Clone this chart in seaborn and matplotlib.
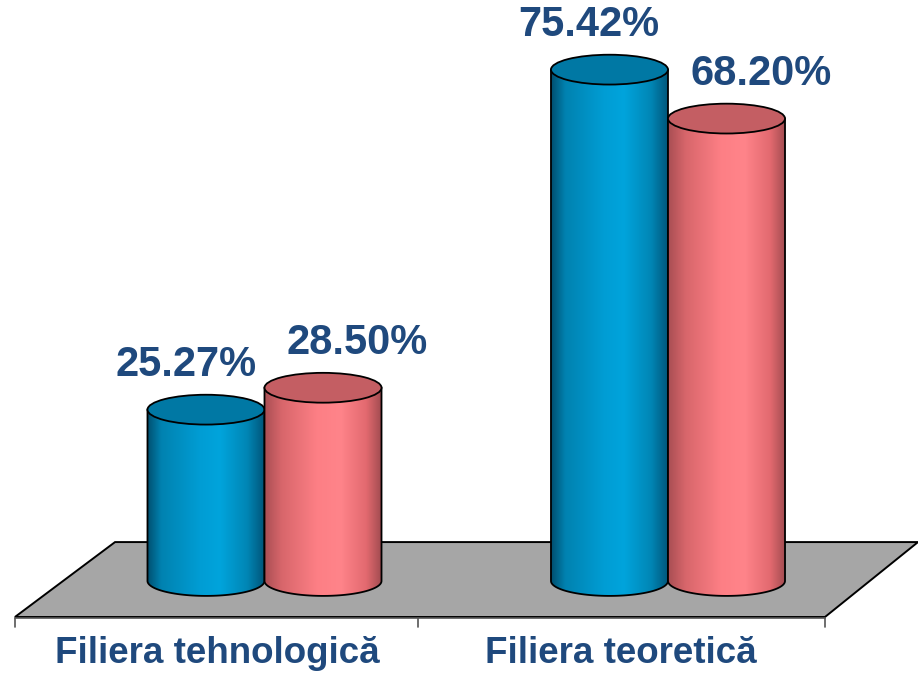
import numpy as np
import pandas as pd
import matplotlib
matplotlib.use("Agg")
import matplotlib.pyplot as plt
import seaborn as sns
from matplotlib.colors import LinearSegmentedColormap
from matplotlib.patches import Polygon, PathPatch, Ellipse
from matplotlib.path import Path

# ── data ─────────────────────────────────────────────────────
categories = ["Filiera tehnologică", "Filiera teoretică"]
series = ["Seria 1", "Seria 2"]
vals_blue = [25.27, 75.42]
vals_pink = [28.50, 68.20]

df = pd.DataFrame({
    "filiera": categories * 2,
    "serie": [series[0]] * 2 + [series[1]] * 2,
    "procent": vals_blue + vals_pink,
})

TXT = "#1F497D"
body_cmaps = {
    series[0]: LinearSegmentedColormap.from_list(
        "b", [(0, "#004e6e"), (0.12, "#0082b0"), (0.45, "#009dd4"),
              (0.62, "#00a4dc"), (0.85, "#0086b5"), (1, "#005478")]),
    series[1]: LinearSegmentedColormap.from_list(
        "p", [(0, "#a84e53"), (0.15, "#d8666b"), (0.45, "#fd7f85"),
              (0.65, "#ff848a"), (0.87, "#e2696f"), (1, "#a04b50")]),
}
top_colors = {series[0]: "#0078a4", series[1]: "#c45e63"}

sns.set_style("white")
plt.rcParams["font.family"] = ["Liberation Sans", "DejaVu Sans"]

fig = plt.figure(figsize=(9.18, 6.81), dpi=100)
ax = fig.add_axes([0, 0, 1, 1])

sns.barplot(data=df, x="filiera", y="procent", hue="serie", hue_order=series,
            order=categories, width=0.58, dodge=True, legend=False, ax=ax,
            palette=["#00a3dc", "#ff7f85"])

# floor (layout, in axes fraction)
floor = Polygon([(0.0163, 0.094), (0.8987, 0.094), (1.0, 0.204), (0.1253, 0.204)],
                closed=True, transform=ax.transAxes, facecolor="#a6a6a6",
                edgecolor="black", lw=1.4, zorder=1)
ax.add_patch(floor)
ax.plot([0.0163, 0.8987], [0.092, 0.092], color="#555555", lw=1.2,
        transform=ax.transAxes, zorder=1)
for tx in [0.0163, 0.4553, 0.8987]:
    ax.plot([tx, tx], [0.092, 0.079], color="#555555", lw=1.2,
            transform=ax.transAxes, zorder=1)

for i, cat in enumerate(categories):
    ax.text([0.2364, 0.6765][i], 0.0264, cat, transform=ax.transAxes,
            ha="center", va="baseline", fontsize=26.5, fontweight="bold", color=TXT)

# cylinders built from seaborn's bar geometry
b = 2.2  # ellipse half height in data units
bars = []
for cont, s in zip(ax.containers, series):
    for p in cont.patches:
        bars.append((p.get_x(), p.get_width(), p.get_height(), s))
        p.set_visible(False)
bars.sort(key=lambda t: t[0])

grad = np.linspace(0, 1, 256).reshape(1, -1)
t = np.linspace(np.pi, 2 * np.pi, 60)
for k, (x0, w, v, s) in enumerate(bars):
    z = 3 + k
    cx, a = x0 + w / 2, w / 2
    arc = np.column_stack([cx + a * np.cos(t), b * np.sin(t)])
    verts = np.vstack([[x0, v], arc, [x0 + w, v], [x0, v]])
    body = Path(verts, closed=True)
    img = ax.imshow(grad, cmap=body_cmaps[s], aspect="auto", interpolation="bilinear",
                    extent=[x0, x0 + w, -b, v], zorder=z)
    outline = PathPatch(body, facecolor="none", edgecolor="black", lw=1.3, zorder=z + 0.1)
    ax.add_patch(outline)
    img.set_clip_path(outline)
    ax.add_patch(Ellipse((cx, v), w, 2 * b, facecolor=top_colors[s],
                         edgecolor="black", lw=1.3, zorder=z + 0.2))
    dx = -0.05 if s == series[0] else 0.085
    ax.text(cx + dx, v + 6.6, f"{v:.2f}%", ha="center", va="center",
            fontsize=30, fontweight="bold", color=TXT, zorder=10)

ax.set_xlim(-0.6555, 1.6196)
ax.set_ylim(-14.75, 85.69)
ax.axis("off")

plt.savefig("out.png", dpi=100)
plt.close()
